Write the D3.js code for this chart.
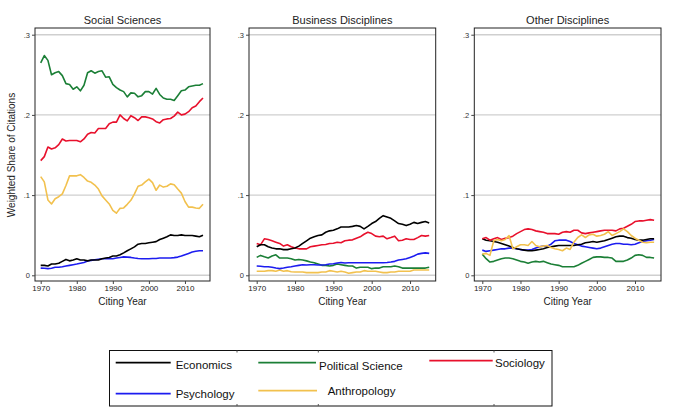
<!DOCTYPE html>
<html lang="en">
<head>
<meta charset="UTF-8">
<title>Weighted Share of Citations</title>
<style>
  body { margin: 0; background: #fff; }
  svg { font-family: "Liberation Sans", Arial, Helvetica, sans-serif; }
</style>
</head>
<body>
<svg id="chart" width="673" height="416"></svg>
<script src="https://cdn.jsdelivr.net/npm/d3@7"></script>
<script>
// ---------- data ----------
var years = d3.range(1970, 2016);
var disciplines = ['Economics', 'Political Science', 'Sociology', 'Psychology', 'Anthropology'];
var panelTitles = ['Social Sciences', 'Business Disciplines', 'Other Disciplines'];
var yTicks = [0, 0.1, 0.2, 0.3];
var yTickLabels = ['0', '.1', '.2', '.3'];
var xTicks = [1970, 1980, 1990, 2000, 2010];

// Social Sciences
var socEcon = [0.0124,0.0124,0.0116,0.014,0.014,0.015,0.0174,0.0198,0.018,0.019,0.0207,0.019,0.019,0.018,0.019,0.019,0.019,0.0207,0.0215,0.0223,0.024,0.024,0.0256,0.028,0.0306,0.033,0.0355,0.0388,0.0397,0.0397,0.0405,0.0413,0.042,0.0446,0.0463,0.048,0.0504,0.0496,0.0496,0.0504,0.0496,0.0496,0.0496,0.0488,0.048,0.05];
var socPol = [0.265,0.274,0.268,0.25,0.2525,0.254,0.249,0.239,0.238,0.232,0.235,0.23,0.237,0.2525,0.255,0.252,0.254,0.255,0.247,0.2475,0.238,0.234,0.231,0.229,0.2225,0.2275,0.227,0.2225,0.224,0.229,0.229,0.226,0.233,0.2255,0.221,0.2195,0.2195,0.218,0.224,0.23,0.231,0.235,0.236,0.237,0.237,0.239];
var socSoc = [0.143,0.148,0.16,0.1575,0.159,0.163,0.17,0.1675,0.168,0.168,0.168,0.1665,0.17,0.176,0.178,0.1775,0.183,0.183,0.183,0.189,0.191,0.191,0.2,0.1955,0.1925,0.199,0.1965,0.193,0.1975,0.1975,0.1965,0.195,0.1915,0.19,0.194,0.195,0.1955,0.1985,0.2035,0.2,0.201,0.204,0.209,0.211,0.2165,0.221];
var socPsy = [0.009,0.0087,0.0083,0.0087,0.01,0.01,0.0107,0.0116,0.0124,0.0132,0.014,0.015,0.016,0.0178,0.0186,0.0194,0.02,0.0207,0.0207,0.0207,0.0207,0.0215,0.0223,0.023,0.0227,0.0223,0.0215,0.021,0.0207,0.0207,0.0207,0.021,0.021,0.0215,0.0215,0.0215,0.0215,0.022,0.0227,0.024,0.0256,0.0273,0.029,0.03,0.0306,0.0306];
var socAnt = [0.123,0.1165,0.094,0.089,0.0955,0.098,0.1015,0.112,0.124,0.124,0.124,0.1255,0.122,0.1175,0.116,0.1125,0.1075,0.099,0.094,0.089,0.081,0.0775,0.0835,0.084,0.0885,0.0935,0.1015,0.111,0.1125,0.1165,0.12,0.1155,0.106,0.1125,0.11,0.111,0.114,0.113,0.1075,0.1025,0.092,0.085,0.085,0.084,0.0835,0.0885];

// Business Disciplines
var busEcon = [0.0355,0.038,0.038,0.0355,0.034,0.033,0.033,0.032,0.032,0.033,0.034,0.0364,0.0397,0.043,0.0463,0.048,0.0496,0.0504,0.0537,0.0554,0.0562,0.0579,0.0603,0.0603,0.0603,0.061,0.062,0.061,0.0579,0.061,0.0645,0.067,0.071,0.0744,0.0727,0.071,0.0678,0.0645,0.0636,0.062,0.0636,0.066,0.0645,0.066,0.067,0.0653];
var busPol = [0.0223,0.0248,0.023,0.0215,0.024,0.0256,0.0215,0.0215,0.0215,0.0207,0.019,0.0198,0.019,0.018,0.0165,0.0157,0.014,0.0124,0.0124,0.0116,0.0124,0.014,0.0132,0.0124,0.0116,0.0116,0.009,0.01,0.01,0.01,0.0083,0.009,0.009,0.0107,0.0107,0.0107,0.0116,0.0107,0.009,0.009,0.009,0.009,0.009,0.009,0.009,0.01];
var busSoc = [0.0397,0.038,0.0455,0.0446,0.043,0.0413,0.0397,0.0364,0.038,0.0355,0.034,0.033,0.033,0.033,0.0355,0.0364,0.0372,0.038,0.0384,0.0397,0.04,0.0413,0.0405,0.043,0.0438,0.0442,0.0463,0.048,0.0512,0.0537,0.052,0.0488,0.048,0.0488,0.0455,0.047,0.0488,0.043,0.0438,0.0455,0.0446,0.0446,0.047,0.0496,0.0488,0.0496];
var busPsy = [0.0116,0.0112,0.0107,0.0107,0.01,0.009,0.0083,0.009,0.01,0.0107,0.0116,0.0124,0.0132,0.0128,0.0132,0.0132,0.0128,0.0128,0.0132,0.014,0.0145,0.0153,0.016,0.0153,0.0157,0.0157,0.0157,0.0157,0.0157,0.0157,0.0157,0.0157,0.0157,0.0157,0.016,0.0165,0.0174,0.019,0.0198,0.0207,0.0223,0.024,0.0264,0.0273,0.028,0.0273];
var busAnt = [0.005,0.005,0.005,0.0058,0.0058,0.005,0.0066,0.005,0.0058,0.0045,0.0041,0.0041,0.0041,0.0033,0.0033,0.0033,0.0033,0.0041,0.0041,0.0058,0.005,0.0041,0.005,0.0041,0.0025,0.0033,0.0041,0.0041,0.0058,0.005,0.005,0.005,0.0041,0.0033,0.0033,0.0041,0.0041,0.005,0.005,0.005,0.005,0.0066,0.0066,0.0066,0.0066,0.0066];

// Other Disciplines
var othEcon = [0.0455,0.0438,0.043,0.0421,0.0413,0.0397,0.038,0.0364,0.0347,0.033,0.0322,0.0314,0.0306,0.0306,0.0314,0.0322,0.033,0.0347,0.0355,0.0364,0.0372,0.0372,0.0372,0.0372,0.0372,0.038,0.0388,0.0405,0.0413,0.0421,0.0413,0.0421,0.043,0.0446,0.0463,0.048,0.0488,0.0488,0.047,0.0463,0.0446,0.0438,0.0438,0.0446,0.0455,0.0455];
var othPol = [0.0264,0.0207,0.0165,0.0174,0.019,0.0207,0.0215,0.0215,0.0207,0.019,0.0174,0.0165,0.015,0.0165,0.0174,0.0165,0.0174,0.0157,0.014,0.0132,0.0124,0.0107,0.0107,0.0107,0.0107,0.0124,0.015,0.0174,0.0198,0.0223,0.023,0.023,0.0223,0.0223,0.0215,0.0174,0.0174,0.0174,0.019,0.0215,0.0248,0.0256,0.0248,0.0223,0.0223,0.0215];
var othSoc = [0.0455,0.047,0.0438,0.0455,0.047,0.0446,0.0463,0.047,0.0488,0.052,0.0545,0.057,0.0579,0.057,0.0554,0.0545,0.0537,0.052,0.052,0.052,0.0512,0.0537,0.0545,0.0537,0.0562,0.0562,0.0529,0.052,0.0529,0.0537,0.0545,0.0554,0.0562,0.0562,0.0562,0.0554,0.0579,0.0587,0.0612,0.0636,0.067,0.0678,0.0678,0.0686,0.0694,0.0686];
var othPsy = [0.0314,0.0298,0.0306,0.0314,0.0322,0.033,0.033,0.0339,0.0339,0.033,0.0322,0.0314,0.0314,0.0322,0.0339,0.0355,0.0364,0.0364,0.0388,0.043,0.0438,0.0438,0.0438,0.0421,0.0397,0.038,0.0364,0.0355,0.0347,0.0339,0.033,0.0339,0.0355,0.0372,0.0388,0.0397,0.0397,0.0388,0.0388,0.038,0.0388,0.0405,0.0421,0.043,0.0438,0.0446];
var othAnt = [0.0264,0.0273,0.0248,0.043,0.0446,0.043,0.0446,0.0496,0.033,0.0355,0.038,0.038,0.0372,0.0421,0.0372,0.0355,0.0364,0.0372,0.0347,0.033,0.0322,0.0306,0.0339,0.0322,0.0413,0.0471,0.0504,0.0471,0.0504,0.0512,0.0488,0.0496,0.0512,0.0545,0.0496,0.052,0.0545,0.0579,0.0545,0.0496,0.0463,0.0438,0.0413,0.0405,0.0413,0.0413];

var colors = {
  'Economics': '#000000',
  'Political Science': '#1b7f36',
  'Sociology': '#e8102c',
  'Psychology': '#1c1cf0',
  'Anthropology': '#f2c14e'
};

// draw order: back to front
var panels = [
  { title: panelTitles[0], frame: [35, 210], x0: 40.7, x1: 203.0,
    series: [['Sociology', socSoc], ['Political Science', socPol], ['Anthropology', socAnt], ['Psychology', socPsy], ['Economics', socEcon]] },
  { title: panelTitles[1], frame: [249, 435.7], x0: 256.7, x1: 429.2,
    series: [['Anthropology', busAnt], ['Political Science', busPol], ['Psychology', busPsy], ['Sociology', busSoc], ['Economics', busEcon]] },
  { title: panelTitles[2], frame: [474.3, 661], x0: 482.3, x1: 654.1,
    series: [['Political Science', othPol], ['Psychology', othPsy], ['Economics', othEcon], ['Sociology', othSoc], ['Anthropology', othAnt]] }
];

var svg = d3.select('#chart');
var frameTop = 28, frameBottom = 281;
var y = d3.scaleLinear().domain([0, 0.3]).range([275.3, 34.7]);

panels.forEach(function (p, pi) {
  var x = d3.scaleLinear().domain([1970, 2015]).range([p.x0, p.x1]);
  var g = svg.append('g');

  // grid lines
  g.selectAll('line.grid')
    .data(yTicks)
    .enter()
    .append('line')
    .attr('x1', p.frame[0])
    .attr('x2', p.frame[1])
    .attr('y1', d => y(d))
    .attr('y2', d => y(d))
    .attr('stroke', '#cfcfcf')
    .attr('stroke-width', d => (d === 0.3 || d === 0) ? 1.6 : 1.1);

  // series lines
  var line = d3.line()
    .x((d, i) => x(years[i]))
    .y(d => y(d));
  g.selectAll('path.series')
    .data(p.series)
    .enter()
    .append('path')
    .attr('d', d => line(d[1]))
    .attr('fill', 'none')
    .attr('stroke', d => colors[d[0]])
    .attr('stroke-width', 1.6)
    .attr('stroke-linejoin', 'round');

  // frame
  g.append('rect')
    .attr('x', p.frame[0])
    .attr('y', frameTop)
    .attr('width', p.frame[1] - p.frame[0])
    .attr('height', frameBottom - frameTop)
    .attr('fill', 'none')
    .attr('stroke', '#222')
    .attr('stroke-width', 1);

  // y axis
  var yAxis = d3.axisLeft(y)
    .tickValues(yTicks)
    .tickFormat((d, i) => yTickLabels[i])
    .tickSize(3)
    .tickPadding(2);
  var ya = g.append('g')
    .attr('transform', 'translate(' + p.frame[0] + ',0)')
    .call(yAxis);
  ya.select('.domain').remove();
  ya.selectAll('text').attr('font-size', 7.5).attr('fill', '#333').style('font-family', '"Liberation Sans", Arial, sans-serif');
  ya.selectAll('line').attr('stroke', '#444');

  // x axis
  var xAxis = d3.axisBottom(x)
    .tickValues(xTicks)
    .tickFormat(d3.format('d'))
    .tickSize(3)
    .tickPadding(1.5);
  var xa = g.append('g')
    .attr('transform', 'translate(0,' + frameBottom + ')')
    .call(xAxis);
  xa.select('.domain').remove();
  xa.selectAll('text').attr('font-size', 8).attr('fill', '#222').style('font-family', '"Liberation Sans", Arial, sans-serif');
  xa.selectAll('line').attr('stroke', '#444');

  // title and x label
  var cx = (p.frame[0] + p.frame[1]) / 2;
  g.append('text')
    .attr('x', cx)
    .attr('y', 24)
    .attr('text-anchor', 'middle')
    .attr('font-size', 11)
    .attr('fill', '#222')
    .text(p.title);
  g.append('text')
    .attr('x', cx)
    .attr('y', 305)
    .attr('text-anchor', 'middle')
    .attr('font-size', 10)
    .attr('fill', '#222')
    .text('Citing Year');
});

// y axis title
svg.append('text')
  .attr('transform', 'translate(15,155) rotate(-90)')
  .attr('text-anchor', 'middle')
  .attr('font-size', 10)
  .attr('fill', '#222')
  .text('Weighted Share of Citations');

// ---------- legend ----------
var legend = svg.append('g');
legend.append('rect')
  .attr('x', 109.5)
  .attr('y', 350.5)
  .attr('width', 442.5)
  .attr('height', 55.5)
  .attr('fill', '#fff')
  .attr('stroke', '#111')
  .attr('stroke-width', 1);
[237, 318.3, 494].forEach(function (tx) {
  legend.append('line').attr('x1', tx).attr('x2', tx).attr('y1', 350.5).attr('y2', 352.5).attr('stroke', '#555');
  legend.append('line').attr('x1', tx).attr('x2', tx).attr('y1', 404).attr('y2', 406).attr('stroke', '#555');
});
var legendPos = [
  { name: 'Economics', lx: [115.7, 170.7], ly: 362.7, tx: 175.7, ty: 369.3 },
  { name: 'Political Science', lx: [258.3, 316], ly: 362.7, tx: 319, ty: 369.7 },
  { name: 'Sociology', lx: [429.3, 492.7], ly: 360.7, tx: 495, ty: 366.7 },
  { name: 'Psychology', lx: [115.7, 170.7], ly: 393.7, tx: 175.7, ty: 398.3 },
  { name: 'Anthropology', lx: [258.3, 317], ly: 390.7, tx: 327.7, ty: 394.7 }
];
legendPos.forEach(function (d) {
  legend.append('line')
    .attr('x1', d.lx[0]).attr('x2', d.lx[1])
    .attr('y1', d.ly).attr('y2', d.ly)
    .attr('stroke', colors[d.name])
    .attr('stroke-width', 1.8);
  legend.append('text')
    .attr('x', d.tx)
    .attr('y', d.ty)
    .attr('font-size', 11.5)
    .attr('fill', '#111')
    .text(d.name);
});
</script>
</body>
</html>
